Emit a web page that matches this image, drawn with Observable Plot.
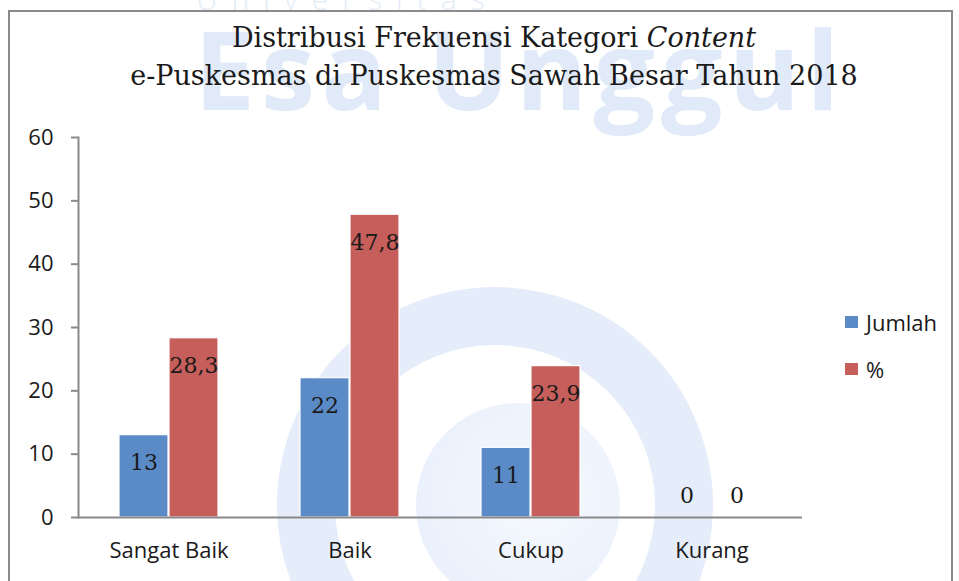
<!DOCTYPE html>
<html>
<head>
<meta charset="utf-8">
<script src="https://cdn.jsdelivr.net/npm/d3@7"></script>
<script src="https://cdn.jsdelivr.net/npm/@observablehq/plot@0.6"></script>
<style>
  html, body { margin: 0; padding: 0; background: #fff; }
  #wrap { position: relative; width: 959px; height: 581px; overflow: hidden; background: #fff; }
  #border { position: absolute; left: 8px; top: 10px; width: 945px; height: 600px; border: 2px solid #8a8a8a; box-sizing: border-box; }
  .wm { position: absolute; white-space: nowrap; font-family: "Open Sans", sans-serif; }
  #title { position: absolute; left: 494px; top: 19px; transform: translateX(-50%); white-space: nowrap; text-align: center;
           font-family: "DejaVu Serif", serif; font-size: 27px; line-height: 38px; color: #1a1a1a; }
  #chart { position: absolute; left: 0; top: 0; }
  .leg { position: absolute; left: 845px; height: 30px; font-family: "Open Sans", sans-serif; font-size: 22px; line-height: 30px; color: #1a1a1a; white-space: nowrap; }
  .leg span.sw { position: absolute; left: 0; top: 9px; width: 13px; height: 12px; }
  .leg span.lb { position: absolute; left: 21px; top: 0; }
</style>
</head>
<body>
<div id="wrap">
  <div class="wm" style="left:196px;top:-16px;font-size:30px;line-height:30px;font-weight:300;color:#e4ecf8;letter-spacing:14px;">Universitas</div>
  <div class="wm" style="left:194px;top:13px;font-size:109px;line-height:109px;font-weight:700;color:#e1eaf9;letter-spacing:6px;">Esa Unggul</div>
  <div class="wm" style="left:277px;top:287px;width:436px;height:436px;border-radius:50%;border:58px solid #e5edfb;box-sizing:border-box;"></div>
  <div class="wm" style="left:416px;top:403px;width:204px;height:204px;border-radius:50%;background:radial-gradient(circle at 60% 45%, #f6f9fe 0%, #e6eefb 100%);"></div>
  <div id="border"></div>
  <div id="chart"></div>
  <div id="title">Distribusi Frekuensi Kategori <i>Content</i><br>e-Puskesmas di Puskesmas Sawah Besar Tahun 2018</div>
  <div id="legend"></div>
</div>
<script>
const categories = ["Sangat Baik", "Baik", "Cukup", "Kurang"];
const series = ["Jumlah", "%"];
const jumlah = [13, 22, 11, 0];
const persen = [28.3, 47.8, 23.9, 0];
const colors = ["#5B8BC7", "#C65E5B"];
const yTicks = [0, 10, 20, 30, 40, 50, 60];

const data = categories.flatMap((c, i) => [
  {cat: c, series: "Jumlah", value: jumlah[i]},
  {cat: c, series: "%", value: persen[i]}
]);
const fmt = v => String(v).replace(".", ",");

const chart = Plot.plot({
  width: 959,
  height: 581,
  marginTop: 137,
  marginBottom: 64,
  marginLeft: 77,
  marginRight: 156,
  style: {fontFamily: "Open Sans, sans-serif", fontSize: "22px", color: "#1a1a1a", background: "transparent", overflow: "visible"},
  fx: {domain: categories, padding: 0, axis: "bottom", tickSize: 0, tickPadding: 25, label: null},
  x: {domain: series, paddingInner: 0.0196, paddingOuter: 0.789, axis: null},
  y: {domain: [0, 60], ticks: yTicks, axis: null},
  color: {domain: series, range: colors},
  marks: [
    Plot.barY(data, {fx: "cat", x: "series", y: "value", fill: "series", stroke: "#ffffff", strokeWidth: 1.2}),
    Plot.ruleY([0], {stroke: "#8a8a8a", strokeWidth: 2}),
    Plot.axisY({ticks: yTicks, tickSize: 7, tickPadding: 18, stroke: "#8a8a8a", strokeWidth: 2, fill: "#1a1a1a", label: null, anchor: "left", facetAnchor: "left"}),
    Plot.frame({anchor: "left", facetAnchor: "left", stroke: "#8a8a8a", strokeWidth: 2}),
    Plot.text(data.filter(d => d.value > 0), {fx: "cat", x: "series", y: "value", text: d => fmt(d.value), dy: 28, lineAnchor: "middle", fontFamily: "DejaVu Serif, serif", fontSize: 22, fill: "#1a1a1a"}),
    Plot.text(data.filter(d => d.value === 0), {fx: "cat", x: "series", y: "value", text: d => fmt(d.value), dy: -22, lineAnchor: "middle", fontFamily: "DejaVu Serif, serif", fontSize: 22, fill: "#1a1a1a"})
  ]
});
document.getElementById("chart").appendChild(chart);

const legend = document.getElementById("legend");
series.forEach((s, i) => {
  const row = document.createElement("div");
  row.className = "leg";
  row.style.top = (307 + i * 47) + "px";
  row.innerHTML = `<span class="sw" style="background:${colors[i]}"></span><span class="lb">${s}</span>`;
  legend.appendChild(row);
});
</script>
</body>
</html>
